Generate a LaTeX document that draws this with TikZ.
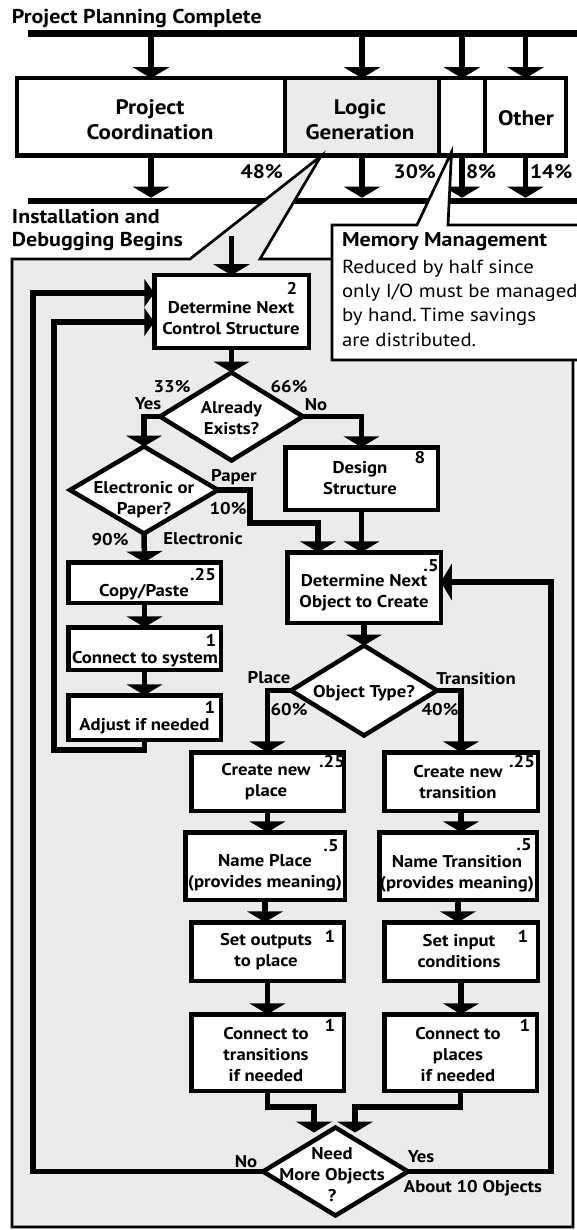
\documentclass[tikz,border=0pt]{standalone}
\usepackage{fontspec}
\setmainfont{PT Sans}[FakeStretch=1.1]
\usetikzlibrary{arrows.meta,shapes.geometric,calc}

\definecolor{panelgray}{RGB}{235,235,235}

\begin{document}
\begin{tikzpicture}[x=1pt,y=-1pt,
  every node/.style={inner sep=0pt, outer sep=0pt},
  bar/.style={fill=black, rectangle},
  box/.style={draw, line width=4.5pt, fill=white, rectangle},
  dia/.style={draw, line width=4.5pt, fill=white, diamond},
  conn/.style={line width=5.5pt},
  arr/.style={conn, -{Triangle[width=36pt,length=11pt]}},
  sarr/.style={conn, -{Triangle[width=28pt,length=10pt]}},
  calloutline/.style={line width=2.7pt},
  txt/.style={font=\fontsize{17}{21}\selectfont\bfseries, align=center},
  lbl/.style={font=\fontsize{17}{20}\selectfont\bfseries},
  toptxt/.style={font=\fontsize{21}{25}\selectfont\bfseries, align=center},
  pct/.style={font=\fontsize{19.5}{22}\selectfont\bfseries},
  headfont/.style={font=\fontsize{20}{23}\selectfont\bfseries},
  notefont/.style={font=\fontsize{18.9}{24.3}\selectfont, align=left}
]
\clip (0,0) rectangle (577,1230);
\fill[white] (0,0) rectangle (577,1230);

% ---------- project timeline ----------
\node[headfont, anchor=base west] (title) at (12,24) {Project Planning Complete};

\node[bar, minimum width=549pt, minimum height=7pt] (topbar) at (302.5,33.5) {};
\node[bar, minimum width=549pt, minimum height=6.5pt] (botbar) at (302.5,201) {};

\node[box, minimum width=268pt, minimum height=77.5pt] (pc) at (151,117) {};
\node[box, fill=panelgray, minimum width=154pt, minimum height=77.5pt] (lg) at (362,117) {};
\node[box, minimum width=46pt, minimum height=77.5pt] (mm) at (462,117) {};
\node[box, minimum width=81pt, minimum height=77.5pt] (oth) at (525.5,117) {};

\node[toptxt] (pc-t) at (150,119.5) {Project\\Coordination};
\node[toptxt] (lg-t) at (360,119.5) {Logic\\Generation};
\node[toptxt] (oth-t) at (526,118) {Other};

\foreach \b in {pc,lg,mm,oth} {
  \draw[arr] (topbar.south -| \b.north) -- (\b.north);
  \draw[arr] (\b.south) -- (\b.south |- botbar.north);
}

\node[pct, anchor=east] (pc-p) at (283,172) {48\%};
\node[pct, anchor=east] (lg-p) at (436,172) {30\%};
\node[pct, anchor=west] (mm-p) at (466,172) {8\%};
\node[pct, anchor=west] (oth-p) at (530,172) {14\%};

\node[font=\fontsize{20}{23}\selectfont\bfseries, align=left, anchor=base west] (inst) at (12,247) {Installation and\\Debugging Begins};

% ---------- logic generation detail panel ----------
\draw[calloutline, fill=panelgray] (12,1227) -- (12,259) -- (190,259) -- (321,156)
  -- (260,259) -- (573,259) -- (573,1227) -- cycle;

% ---------- memory management note ----------
\draw[calloutline, fill=white] (332,225) -- (417,225) -- (451.5,152) -- (448,225)
  -- (600,225) -- (600,360) -- (332,360) -- cycle;
\node[font=\fontsize{20}{22}\selectfont\bfseries, anchor=base west] (mm-head) at (342,247) {Memory Management};
\node[notefont, anchor=base west] (mm-body) at (342,346) {Reduced by half since\\only I/O must be managed\\by hand.\,Time savings\\are distributed.};

% ---------- flowchart nodes ----------
\node[box, minimum width=154.5pt, minimum height=72.5pt] (dncs) at (231.5,311.5) {};
\node[txt] (dncs-t) at (231,318) {Determine Next\\Control Structure};
\node[lbl] (dncs-n) at (292,288) {2};

\node[dia, minimum width=143pt, minimum height=88pt] (ae) at (231.5,416.5) {};
\node[txt] (ae-t) at (231.5,418) {Already\\Exists?};

\node[box, minimum width=152.5pt, minimum height=62.5pt] (ds) at (361.5,478.5) {};
\node[txt] (ds-t) at (360,478) {Design\\Structure};
\node[lbl] (ds-n) at (420,458) {8};

\node[dia, minimum width=148pt, minimum height=87pt] (ed) at (144,490) {};
\node[txt] (ed-t) at (144,500) {Electronic or\\Paper?};

\node[box, minimum width=153.5pt, minimum height=70.5pt] (dno) at (364,587.5) {};
\node[txt] (dno-t) at (364,592.5) {Determine Next\\Object to Create};
\node[lbl] (dno-n) at (431,566) {.5};

\node[box, minimum width=152.5pt, minimum height=40.5pt] (cp) at (144.5,582.5) {};
\node[txt] (cp-t) at (144,592) {Copy/Paste};
\node[lbl] (cp-n) at (203,575) {.25};

\node[box, minimum width=152.5pt, minimum height=42.5pt] (cs) at (144.5,648.5) {};
\node[txt] (cs-t) at (145,659) {Connect to system};
\node[lbl] (cs-n) at (211,640) {1};

\node[box, minimum width=152.5pt, minimum height=44.5pt] (ad) at (144.5,717.5) {};
\node[txt] (ad-t) at (144.5,726) {Adjust if needed};
\node[lbl] (ad-n) at (210,707) {1};

\node[dia, minimum width=146pt, minimum height=90pt] (otype) at (364,690.5) {};
\node[txt] (otype-t) at (364,693) {Object Type?};

\node[box, minimum width=152.5pt, minimum height=58.5pt] (cnp) at (267.5,781.5) {};
\node[txt] (cnp-t) at (266,782) {Create new\\place};
\node[lbl] (cnp-n) at (332,762) {.25};

\node[box, minimum width=153.5pt, minimum height=58.5pt] (cnt) at (461,781.5) {};
\node[txt] (cnt-t) at (458,782) {Create new\\transition};
\node[lbl] (cnt-n) at (522,762) {.25};

\node[box, minimum width=159.5pt, minimum height=67.5pt] (np) at (265,866) {};
\node[txt] (np-t) at (265,873) {Name Place\\(provides meaning)};
\node[lbl] (np-n) at (331,846) {.5};

\node[box, minimum width=157.5pt, minimum height=67.5pt] (nt) at (458,866) {};
\node[txt] (nt-t) at (457,873.5) {Name Transition\\(provides meaning)};
\node[lbl] (nt-n) at (524,845) {.5};

\node[box, minimum width=152.5pt, minimum height=58.5pt] (so) at (267.5,951.5) {};
\node[txt] (so-t) at (266,951.5) {Set outputs\\to place};
\node[lbl] (so-n) at (330,936) {1};

\node[box, minimum width=153.5pt, minimum height=58.5pt] (si) at (461,951.5) {};
\node[txt] (si-t) at (459,951.5) {Set input\\conditions};
\node[lbl] (si-n) at (523,936) {1};

\node[box, minimum width=152.5pt, minimum height=76.5pt] (ct) at (267.5,1052.5) {};
\node[txt] (ct-t) at (266,1055) {Connect to\\transitions\\if needed};
\node[lbl] (ct-n) at (330,1025) {1};

\node[box, minimum width=152.5pt, minimum height=76.5pt] (cpl) at (460.5,1052.5) {};
\node[txt] (cpl-t) at (458,1055) {Connect to\\places\\if needed};
\node[lbl] (cpl-n) at (525,1025) {1};

\node[dia, minimum width=145pt, minimum height=88pt] (nm) at (335.5,1171.5) {};
\node[txt] (nm-t) at (332,1175) {Need\\More Objects\\?};

% ---------- flowchart connectors ----------
\coordinate (entry) at (231.5,236);
\draw[arr] (entry) -- (dncs.north);
\draw[arr] (dncs.south) -- (ae.north);
\draw[arr] (ae.west) -| (ed.north);
\draw[arr] (ae.east) -| (ds.north);
\draw[arr] (ed.south) -- (cp.north);
\draw[arr] (cp.south) -- (cs.north);
\draw[arr] (cs.south) -- (ad.north);
\coordinate (paperBend) at (250,523);
\coordinate (paperDrop) at (318,523);
\draw[arr] (ed.east) -| (paperBend) -- (paperDrop) -- (paperDrop |- dno.north);
\draw[arr] (ds.south) -- (ds.south |- dno.north);
\draw[arr] (dno.south) -- (otype.north);
\draw[arr] (otype.west) -| (cnp.north);
\draw[arr] (otype.east) -| (cnt.north);
\draw[arr] (cnp.south) -- (cnp.south |- np.north);
\draw[arr] (np.south) -- (np.south |- so.north);
\draw[arr] (so.south) -- (ct.north);
\draw[arr] (cnt.south) -- (cnt.south |- nt.north);
\draw[arr] (nt.south) -- (nt.south |- si.north);
\draw[arr] (si.south) -- (si.south |- cpl.north);

\coordinate (mergeL) at (314,1107);
\coordinate (mergeR) at (355,1107);
\draw[arr] (ct.south) |- (mergeL) -- ($(mergeL |- nm.north)+(0,5)$);
\draw[arr] (cpl.south) |- (mergeR) -- ($(mergeR |- nm.north)+(0,5)$);

% loop back for existing structures
\coordinate (adjCorner) at (54,750);
\coordinate (innerTop) at (54,322);
\draw[sarr] (ad.south) |- (adjCorner) -- (innerTop) -- (innerTop -| dncs.west);

% loop back when no more objects are needed
\coordinate (noCorner) at (33,293);
\draw[sarr] (nm.west) -| (noCorner) -- (noCorner -| dncs.west);

% loop back for the next object
\coordinate (yesCorner) at (551,582);
\draw[arr] (nm.east) -| (yesCorner) -- (yesCorner -| dno.east);

% ---------- branch labels ----------
\node[lbl] (l33) at (172,387) {33\%};
\node[lbl] (lyes1) at (148,404) {Yes};
\node[lbl] (l66) at (289,387) {66\%};
\node[lbl] (lno1) at (316,405) {No};
\node[lbl] (lpaper) at (234,477) {Paper};
\node[lbl] (l10) at (228,509) {10\%};
\node[lbl] (l90) at (110,540) {90\%};
\node[lbl] (lelec) at (203,539) {Electronic};
\node[lbl] (lplace) at (269,678) {Place};
\node[lbl] (ltrans) at (476,679) {Transition};
\node[lbl] (l60) at (289,710) {60\%};
\node[lbl] (l40) at (440,710) {40\%};
\node[lbl] (lno2) at (246,1162) {No};
\node[lbl] (lyes2) at (421,1157) {Yes};
\node[lbl] (labout) at (473,1188) {About 10 Objects};
\end{tikzpicture}
\end{document}
